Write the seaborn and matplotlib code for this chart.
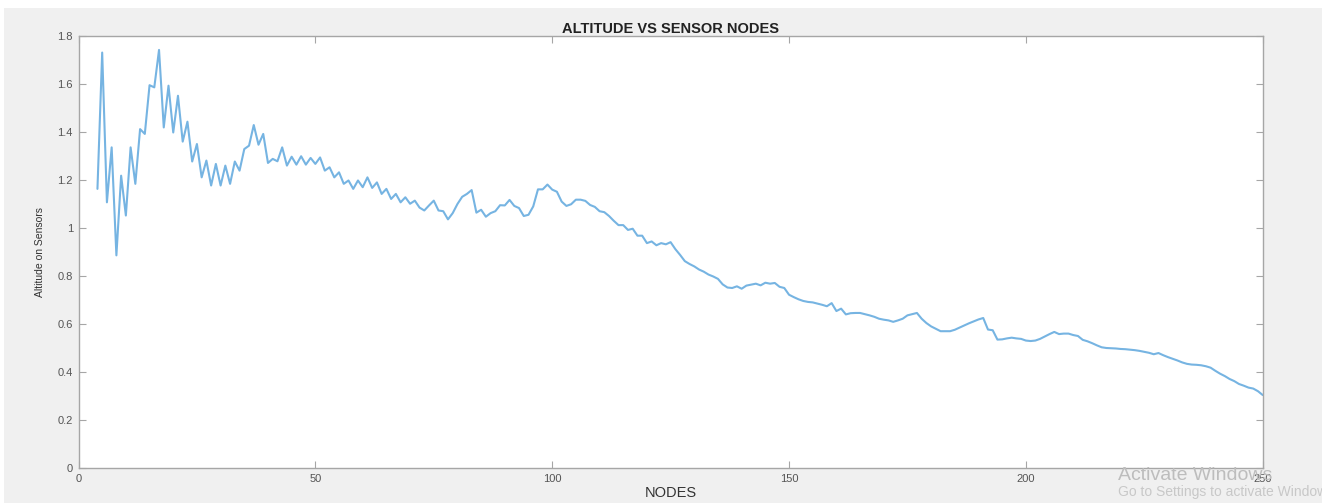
import numpy as np
import pandas as pd
import matplotlib
matplotlib.use("Agg")
import matplotlib.pyplot as plt
from matplotlib.patches import Rectangle
import seaborn as sns

# Sensor node index and measured altitude at each node
nodes = list(range(4, 251))
altitude = [
    1.163, 1.731, 1.107, 1.336, 0.886, 1.218, 1.052, 1.336, 1.184, 1.412,
    1.392, 1.595, 1.586, 1.742, 1.419, 1.593, 1.398, 1.551, 1.360, 1.443,
    1.277, 1.350, 1.211, 1.281, 1.177, 1.267, 1.177, 1.260, 1.184, 1.277,
    1.239, 1.329, 1.343, 1.429, 1.347, 1.392, 1.271, 1.288, 1.278, 1.336,
    1.260, 1.297, 1.264, 1.299, 1.264, 1.292, 1.267, 1.294, 1.239, 1.253,
    1.211, 1.232, 1.184, 1.198, 1.163, 1.198, 1.170, 1.211, 1.167, 1.190,
    1.142, 1.163, 1.121, 1.142, 1.107, 1.128, 1.101, 1.114, 1.085, 1.073,
    1.094, 1.114, 1.073, 1.070, 1.036, 1.062, 1.100, 1.130, 1.142, 1.158,
    1.064, 1.076, 1.047, 1.062, 1.070, 1.095, 1.094, 1.117, 1.092, 1.083,
    1.050, 1.055, 1.090, 1.161, 1.161, 1.181, 1.160, 1.151, 1.110, 1.092,
    1.099, 1.118, 1.118, 1.113, 1.096, 1.088, 1.070, 1.066, 1.050, 1.030,
    1.012, 1.012, 0.992, 0.997, 0.968, 0.968, 0.937, 0.944, 0.928, 0.937,
    0.932, 0.941, 0.912, 0.888, 0.862, 0.850, 0.840, 0.827, 0.818, 0.806,
    0.798, 0.788, 0.765, 0.752, 0.750, 0.757, 0.747, 0.760, 0.764, 0.768,
    0.761, 0.772, 0.768, 0.771, 0.755, 0.750, 0.722, 0.712, 0.703, 0.696,
    0.692, 0.690, 0.685, 0.680, 0.674, 0.687, 0.654, 0.664, 0.640, 0.645,
    0.646, 0.646, 0.641, 0.636, 0.630, 0.622, 0.618, 0.615, 0.609, 0.615,
    0.622, 0.636, 0.641, 0.646, 0.622, 0.604, 0.590, 0.580, 0.570, 0.570,
    0.570, 0.576, 0.585, 0.594, 0.603, 0.611, 0.619, 0.625, 0.577, 0.574,
    0.535, 0.536, 0.540, 0.543, 0.540, 0.538, 0.531, 0.529, 0.531, 0.538,
    0.548, 0.558, 0.567, 0.558, 0.560, 0.560, 0.554, 0.550, 0.534, 0.528,
    0.520, 0.511, 0.503, 0.500, 0.499, 0.498, 0.496, 0.495, 0.493, 0.491,
    0.488, 0.484, 0.480, 0.474, 0.479, 0.470, 0.462, 0.455, 0.448, 0.440,
    0.434, 0.431, 0.430, 0.428, 0.424, 0.418, 0.405, 0.393, 0.383, 0.371,
    0.362, 0.350, 0.343, 0.335, 0.331, 0.320, 0.304,
]
x_ticks = [0, 50, 100, 150, 200, 250]
x_tick_labels = ["0", "50", "100", "150", "200", "250"]
y_ticks = [0, 0.2, 0.4, 0.6, 0.8, 1.0, 1.2, 1.4, 1.6, 1.8]
y_tick_labels = ["0", "0.2", "0.4", "0.6", "0.8", "1", "1.2", "1.4", "1.6", "1.8"]

df = pd.DataFrame({"node": nodes, "altitude": altitude})

sns.set_style("white")
plt.rcParams["font.family"] = ["Liberation Sans", "DejaVu Sans"]

W, H = 1341, 503
fig = plt.figure(figsize=(W / 100, H / 100), dpi=100, facecolor="white")

# grey window panel behind the axes
fig.add_artist(Rectangle((4 / W, 0), (1322 - 4) / W, 1 - 8 / H,
                         transform=fig.transFigure, facecolor="#f0f0f0",
                         edgecolor="none", zorder=0))

ax = fig.add_axes([78.5 / W, 1 - 468 / H, (1262.7 - 78.5) / W, (468 - 36) / H])
ax.set_facecolor("white")

sns.lineplot(data=df, x="node", y="altitude", ax=ax, color="#76b4e2",
             linewidth=1.5)

ax.set_xlim(0, 250)
ax.set_ylim(0, 1.8)
ax.set_xticks(x_ticks)
ax.set_xticklabels(x_tick_labels)
ax.set_yticks(y_ticks)
ax.set_yticklabels(y_tick_labels)

for side in ["left", "right", "top", "bottom"]:
    ax.spines[side].set_visible(True)
    ax.spines[side].set_color("#a6a6a6")
    ax.spines[side].set_linewidth(1.0)

ax.tick_params(axis="both", which="both", direction="in", length=5,
               width=0.8, color="#a6a6a6", labelsize=8, labelcolor="#555555",
               top=True, right=True, bottom=True, left=True, pad=4)

ax.set_title("ALTITUDE VS SENSOR NODES", fontsize=10.5, fontweight="bold",
             color="#222222", pad=2)
ax.set_xlabel("NODES", fontsize=10.5, color="#333333", labelpad=2)
ax.set_ylabel("Altitude on Sensors", fontsize=7.5, color="#333333", labelpad=9)

# system watermark in the lower right
fig.text(1118 / W, 1 - 476 / H, "Activate Windows", fontsize=14,
         color="#bdbdbd", va="center", ha="left", zorder=5)
fig.text(1118 / W, 1 - 492 / H, "Go to Settings to activate Windows.",
         fontsize=10, color="#c8c8c8", va="center", ha="left", zorder=5)
fig.add_artist(Rectangle((1322 / W, 0), (W - 1322) / W, 1,
                         transform=fig.transFigure, facecolor="white",
                         edgecolor="none", zorder=10))

fig.savefig("out.png", dpi=100, facecolor="white")
